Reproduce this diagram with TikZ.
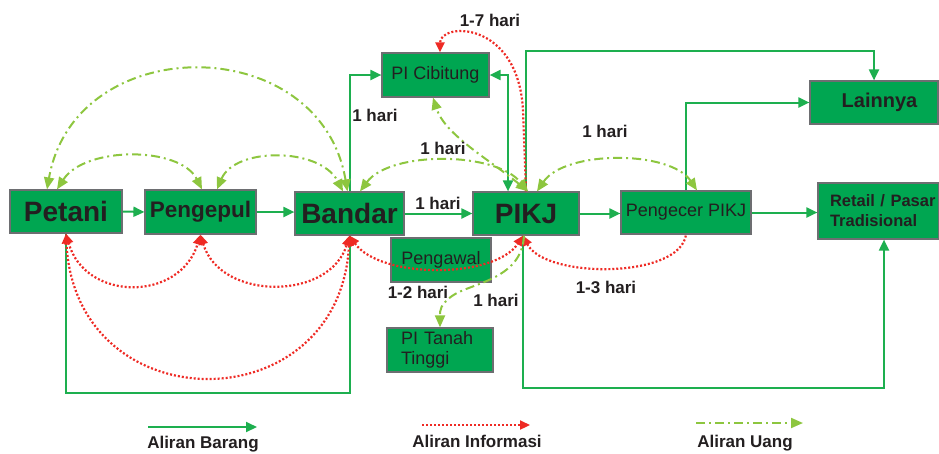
\documentclass[tikz,border=0pt]{standalone}
\usepackage{fontspec}
\setmainfont{Liberation Sans}
\usetikzlibrary{arrows.meta}
\definecolor{boxg}{HTML}{00A651}
\definecolor{lineg}{HTML}{1DAF4F}
\definecolor{infr}{HTML}{EE2A24}
\definecolor{money}{HTML}{8DC63F}
\definecolor{txt}{HTML}{231F20}
\definecolor{bord}{HTML}{6D6E71}
\newcommand\myfs[1]{\fontsize{#1}{#1}\selectfont}
\tikzset{
  gt/.tip={Triangle[length=11pt,width=10pt]},
  rt/.tip={Triangle[length=10pt,width=9pt]},
  mt/.tip={Triangle[length=12pt,width=10pt]},
  box/.style={draw=bord, line width=1.2pt, fill=boxg, text=txt, inner sep=0pt},
  gline/.style={draw=lineg, line width=2pt},
  garrow/.style={gline, -gt},
  rline/.style={draw=infr, line width=2.2pt, dash pattern=on 2pt off 2pt},
  mline/.style={draw=money, line width=2pt, dash pattern=on 9pt off 4pt on 2pt off 4pt},
  lbl/.style={font=\bfseries\myfs{17}, text=txt, inner sep=0pt},
  legtxt/.style={font=\bfseries\myfs{17}, text=txt, inner sep=0pt, anchor=base},
}
\begin{document}
\begin{tikzpicture}[x=1pt,y=-1pt]
\useasboundingbox (0,0) rectangle (939,453);
% boxes
\node[box, minimum width=112pt, minimum height=43pt, font=\bfseries\myfs{28}] (petani) at (66,211.5) {Petani};
\node[box, minimum width=111pt, minimum height=44pt, font=\bfseries\myfs{22.5}] (pengepul) at (200.5,212) {Pengepul};
\node[box, minimum width=109pt, minimum height=43pt, font=\bfseries\myfs{28}] (bandar) at (349.5,213.5) {Bandar};
\node[box, minimum width=106pt, minimum height=43pt, font=\bfseries\myfs{28}] (pikj) at (526,213.5) {PIKJ};
\node[box, minimum width=130pt, minimum height=43pt, font=\myfs{18}] (pengecer) at (686,212.5) {Pengecer PIKJ};
\node[box, minimum width=121pt, minimum height=56pt, text width=115pt, align=left, font=\bfseries\fontsize{16.5}{20}\selectfont] (retail) at (878.5,211) {\hspace*{9pt}Retail / Pasar\\\hspace*{9pt}Tradisional};
\node[box, minimum width=128pt, minimum height=43pt, font=\bfseries\myfs{20}] (lainnya) at (874,102.5) {\hspace*{11pt}Lainnya};
\node[box, minimum width=107pt, minimum height=44pt, font=\myfs{18}] (cib) at (435.5,75) {PI Cibitung};
\node[box, minimum width=100pt, minimum height=44pt, font=\myfs{18}] (pengawal) at (441,260) {Pengawal};
\node[box, minimum width=106pt, minimum height=44pt, text width=78pt, align=left, font=\fontsize{18}{20}\selectfont] (tanah) at (440,350) {PI Tanah\\Tinggi};
% goods flow
\draw[garrow] (petani.east) -- (pengepul.west);
\draw[garrow] (pengepul.east) -- (pengepul.east -| bandar.west);
\draw[garrow] (bandar.east) -- (pikj.west);
\draw[garrow] (pikj.east) -- (pikj.east -| pengecer.west);
\draw[garrow] (pengecer.east) -- (pengecer.east -| retail.west);
\draw[garrow] (bandar.north) |- (cib.west);
\draw[gline, gt-gt] (cib.east) -| ([xshift=-18pt]pikj.north);
\coordinate (ptop) at (526,51);
\draw[garrow] (pikj.north) -- (ptop) -| (lainnya.north);
\draw[garrow] (pengecer.north) |- (lainnya.west);
\coordinate (pbot) at (523,388);
\draw[garrow] ([xshift=-3pt]pikj.south) -- (pbot) -| ([xshift=5.5pt]retail.south);
\coordinate (lb) at (66,393);
\draw[gline] (bandar.south) |- (lb) -- (petani.south);
% information flow
\draw[rline, rt-rt] (petani.south) .. controls (85,302) and (180,302) .. (pengepul.south);
\draw[rline, rt-rt] (pengepul.south) .. controls (220,301) and (330,301) .. (bandar.south);
\draw[rline, rt-rt] (petani.south) .. controls (75,424) and (340,424) .. (bandar.south);
\draw[rline, rt-rt] (bandar.south) .. controls (380,279) and (495,279) .. ([xshift=-3pt]pikj.south);
\draw[rline, rt-] ([xshift=-3pt]pikj.south) .. controls (545,279) and (680,279) .. (pengecer.south);
\coordinate (rbend) at (523,110);
\draw[rline, -rt] (pikj.north) -- (rbend) .. controls (518,20) and (440,22) .. ([xshift=4.5pt]cib.north);
% money flow
\draw[mline, mt-mt] ([xshift=-2pt]bandar.north) .. controls (320,30) and (75,30) .. ([xshift=-19pt]petani.north);
\draw[mline, mt-mt] ([xshift=-9pt]petani.north) .. controls (85,146) and (180,146) .. ([xshift=1.5pt]pengepul.north);
\draw[mline, mt-mt] ([xshift=16.5pt]pengepul.north) .. controls (235,147) and (320,147) .. ([xshift=-6.5pt]bandar.north);
\draw[mline, mt-mt] ([xshift=10.5pt]bandar.north) .. controls (390,151) and (495,151) .. ([xshift=2pt]pikj.north);
\draw[mline, mt-mt] ([xshift=2pt]pikj.north) .. controls (490,160) and (445,135) .. ([xshift=-2.5pt]cib.south);
\draw[mline, mt-mt] ([xshift=11pt]pikj.north) .. controls (565,150) and (670,150) .. ([xshift=11pt]pengecer.north);
\coordinate (tbend) at (452,296);
\draw[mline, -mt] ([xshift=-2pt]pikj.south) .. controls (522,280) and (470,283) .. (tbend) .. controls (440,305) and (440,310) .. (tanah.north);
% labels
\node[lbl] (l17) at (490,20) {1-7 hari};
\node[lbl] (l1a) at (375,115) {1 hari};
\node[lbl] (l1b) at (443,148) {1 hari};
\node[lbl] (l1c) at (605,131) {1 hari};
\node[lbl] (l1d) at (438,203) {1 hari};
\node[lbl] (l12) at (418,292) {1-2 hari};
\node[lbl] (l1e) at (496,300) {1 hari};
\node[lbl] (l13) at (606,287) {1-3 hari};
% legend
\coordinate (lga) at (148,427); \coordinate (lgb) at (257,427);
\draw[garrow] (lga) -- (lgb);
\node[legtxt] (lgt1) at (203,448) {Aliran Barang};
\coordinate (lra) at (422,425); \coordinate (lrb) at (530,425);
\draw[rline, -rt] (lra) -- (lrb);
\node[legtxt] (lgt2) at (477,447) {Aliran Informasi};
\coordinate (lma) at (696,423); \coordinate (lmb) at (803,423);
\draw[mline, -mt] (lma) -- (lmb);
\node[legtxt] (lgt3) at (745,447) {Aliran Uang};
\end{tikzpicture}
\end{document}
